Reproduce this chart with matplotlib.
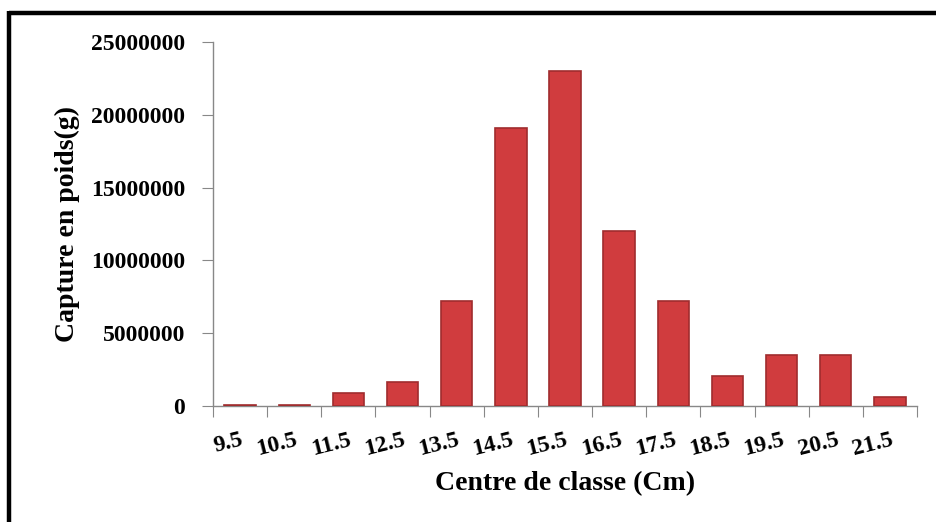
import numpy as np
import matplotlib
matplotlib.use("Agg")
import matplotlib.pyplot as plt
from matplotlib.lines import Line2D

# Catch by size class (weight in g)
classes = ["9.5", "10.5", "11.5", "12.5", "13.5", "14.5", "15.5",
           "16.5", "17.5", "18.5", "19.5", "20.5", "21.5"]
weights = [60000, 60000, 900000, 1650000, 7200000, 19100000, 23000000,
           12000000, 7200000, 2050000, 3500000, 3500000, 600000]
yticks = [0, 5000000, 10000000, 15000000, 20000000, 25000000]

plt.rcParams["font.family"] = ["Liberation Serif", "DejaVu Serif"]
plt.rcParams["font.weight"] = "bold"

W, H = 936, 522
fig = plt.figure(figsize=(W / 100, H / 100), dpi=100, facecolor="white")
ax = fig.add_axes([213 / W, 1 - 406 / H, (917 - 213) / W, (406 - 42) / H])

x = np.arange(len(classes))
ax.bar(x, weights, width=0.58, color="#d03c3e", edgecolor="#a02c2e",
       linewidth=1.2, zorder=3)

ax.set_xlim(-0.5, len(classes) - 0.5)
ax.set_ylim(0, 25000000)
ax.set_yticks(yticks)
ax.set_yticklabels([str(v) for v in yticks], fontsize=17, fontweight="bold")

# boundary ticks (major) and centered labels (minor)
ax.set_xticks(np.arange(len(classes) + 1) - 0.5)
ax.set_xticklabels([])
ax.set_xticks(x, minor=True)
ax.set_xticklabels(classes, minor=True, fontsize=17, fontweight="bold",
                   rotation=14, ha="right", rotation_mode="anchor")
ax.tick_params(axis="x", which="major", length=8, color="#888888", direction="out")
ax.tick_params(axis="x", which="minor", length=0, pad=17)
ax.tick_params(axis="y", length=8, color="#888888", direction="out", pad=12)

for s in ["top", "right"]:
    ax.spines[s].set_visible(False)
for s in ["left", "bottom"]:
    ax.spines[s].set_color("#888888")
    ax.spines[s].set_linewidth(1.0)

ax.set_ylabel("Capture en poids(g)", fontsize=20, fontweight="bold", labelpad=8)
ax.set_xlabel("Centre de classe (Cm)", fontsize=20, fontweight="bold", labelpad=8)

# thick frame around the chart (only top and left visible in the crop)
fig.add_artist(Line2D([9 / W, 1], [1 - 13 / H, 1 - 13 / H], transform=fig.transFigure,
                      color="black", linewidth=3.2, solid_capstyle="butt"))
fig.add_artist(Line2D([9 / W, 9 / W], [0, 1 - 11 / H], transform=fig.transFigure,
                      color="black", linewidth=3.2, solid_capstyle="butt"))

fig.savefig("out.png", dpi=100, facecolor="white")
